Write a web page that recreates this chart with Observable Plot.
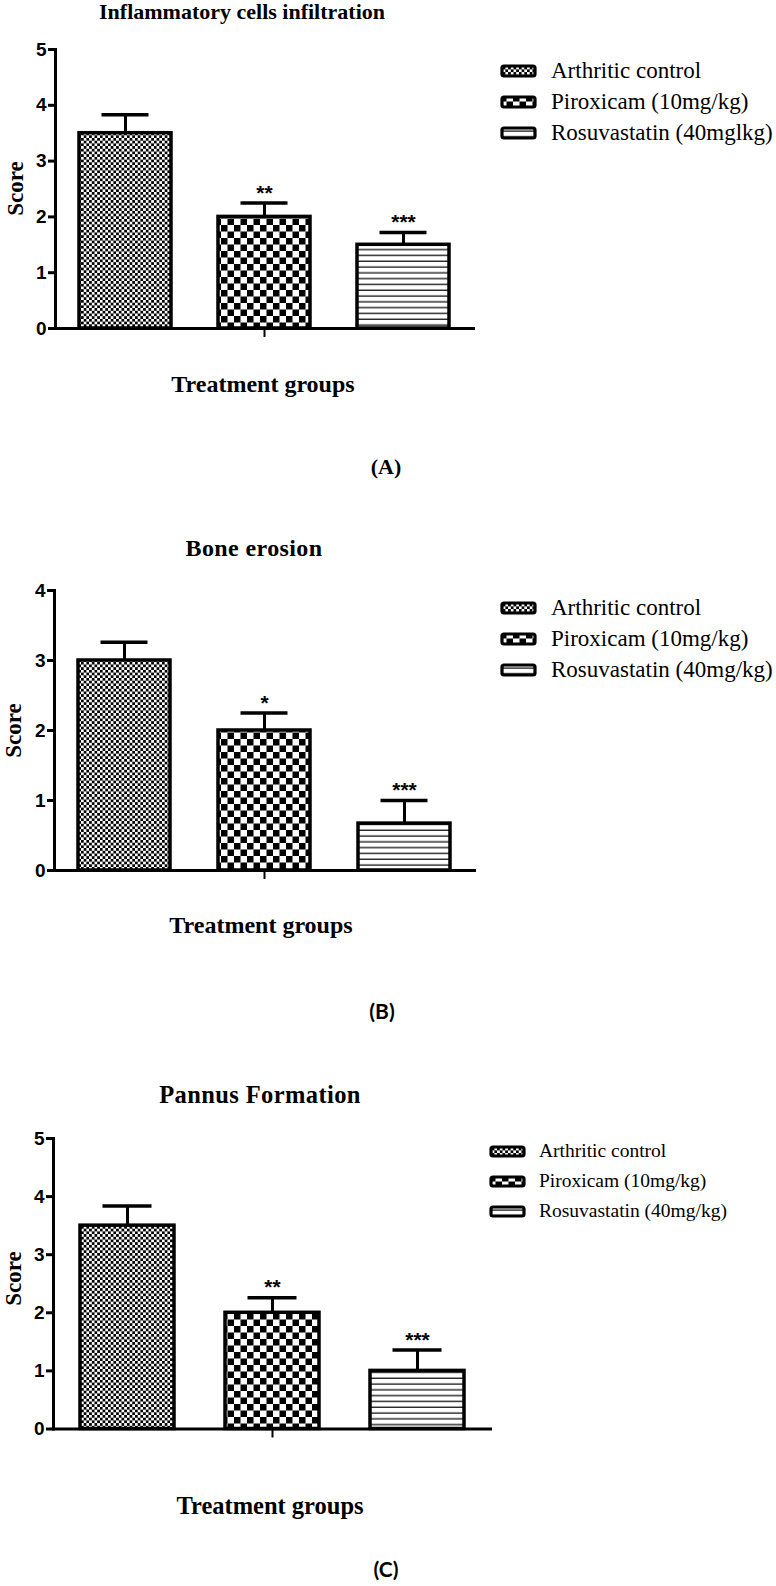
<!DOCTYPE html>
<html><head><meta charset="utf-8">
<script src="https://cdn.jsdelivr.net/npm/d3@7"></script>
<script src="https://cdn.jsdelivr.net/npm/@observablehq/plot@0.6"></script>
<style>
html,body{margin:0;padding:0;background:#fff;overflow:hidden;}
#page{position:relative;width:776px;height:1586px;overflow:hidden;background:#fff;}
.t{position:absolute;white-space:nowrap;color:#000;}
.abs{position:absolute;}
</style></head><body>
<svg width="0" height="0" style="position:absolute">
<defs>
<pattern id="pat0" patternUnits="userSpaceOnUse" width="5.4" height="5.4">
 <rect width="5.4" height="5.4" fill="#fff"/>
 <rect width="2.7" height="2.7" fill="#000"/>
 <rect x="2.7" y="2.7" width="2.7" height="2.7" fill="#000"/>
</pattern>
<pattern id="pat1" patternUnits="userSpaceOnUse" width="13" height="13">
 <rect width="13" height="13" fill="#fff"/>
 <rect width="6.5" height="6.5" fill="#000"/>
 <rect x="6.5" y="6.5" width="6.5" height="6.5" fill="#000"/>
</pattern>
<pattern id="pat2" patternUnits="userSpaceOnUse" width="8" height="5.8">
 <rect width="8" height="5.8" fill="#fff"/>
 <rect y="4.4" width="8" height="1.3" fill="#111"/>
</pattern>
</defs></svg>
<div id="page"></div>
<script>
// ---------- data ----------
const groups = ["Arthritic control", "Piroxicam (10mg/kg)", "Rosuvastatin (40mg/kg)"];
const fills = ["url(#pat0)", "url(#pat1)", "url(#pat2)"];
const titles = ["Inflammatory cells infiltration", "Bone erosion", "Pannus Formation"];
const panelLetters = ["(A)", "(B)", "(C)"];
const xLabel = "Treatment groups";
const yLabel = "Score";

const legendA = ["Arthritic control", "Piroxicam (10mg/kg)", "Rosuvastatin (40mglkg)"];
const legendB = ["Arthritic control", "Piroxicam (10mg/kg)", "Rosuvastatin (40mg/kg)"];
const legendC = ["Arthritic control", "Piroxicam (10mg/kg)", "Rosuvastatin (40mg/kg)"];

const meansA = [3.5, 2.0, 1.5];
const upperA = [3.83, 2.25, 1.72];
const starsA = ["", "**", "***"];
const yTicksA = [0, 1, 2, 3, 4, 5];

const meansB = [3.0, 2.0, 0.67];
const upperB = [3.26, 2.25, 1.0];
const starsB = ["", "*", "***"];
const yTicksB = [0, 1, 2, 3, 4];

const meansC = [3.5, 2.0, 1.0];
const upperC = [3.84, 2.26, 1.36];
const starsC = ["", "**", "***"];
const yTicksC = [0, 1, 2, 3, 4, 5];

// ---------- layout ----------
const SERIF = "'Liberation Serif','Times New Roman',serif";
const SANS = "'Liberation Sans',Arial,sans-serif";
const LATO = "Lato,'Open Sans',sans-serif";

const layouts = [
  {top: 30, height: 318, mt: 19, mb: 20, ml: 55, mr: 303, pi: 0.34, po: 0.168,
   title: {x: 242, base: 19, size: 22}, ylab: {base: 23, y: 188, size: 23},
   xlab: {x: 263, base: 392, size: 24},
   letter: {x: 386, base: 474, size: 22, font: SERIF, mid: 0.3375},
   legend: {boxX: 502, boxW: 33, boxH: 10, textX: 551, ys: [71, 102, 133], size: 23}},
  {top: 570, height: 320, mt: 20, mb: 20, ml: 54, mr: 302, pi: 0.345, po: 0.167,
   title: {x: 254, base: 556, size: 24, spacing: 0.4}, ylab: {base: 21, y: 730, size: 23},
   xlab: {x: 261, base: 933, size: 24},
   letter: {x: 382, base: 1019, size: 21, font: LATO, mid: 0.387, weight: 700},
   legend: {boxX: 502, boxW: 33, boxH: 10, textX: 551, ys: [608, 639, 670], size: 23}},
  {top: 1118, height: 330, mt: 20, mb: 19.5, ml: 53, mr: 286, pi: 0.354, po: 0.179,
   title: {x: 260, base: 1103, size: 24.5, spacing: 0.4}, ylab: {base: 21, y: 1278, size: 23},
   xlab: {x: 270, base: 1514, size: 24.5},
   letter: {x: 386, base: 1577, size: 21, font: LATO, mid: 0.387, weight: 700},
   legend: {boxX: 491, boxW: 33, boxH: 9, textX: 539, ys: [1151, 1181, 1211], size: 19.5}}
];

const panels = [
  {means: meansA, upper: upperA, stars: starsA, ticks: yTicksA, legend: legendA},
  {means: meansB, upper: upperB, stars: starsB, ticks: yTicksB, legend: legendB},
  {means: meansC, upper: upperC, stars: starsC, ticks: yTicksC, legend: legendC}
];

const page = document.getElementById("page");

// text placed by its baseline; line box height h, baseline = top + h/2 + mid*size
function addText(str, o) {
  const d = document.createElement("div");
  d.className = "t";
  d.textContent = str;
  const size = o.size;
  const h = Math.round(size * 0.75);
  const mid = o.mid || 0.3375;
  d.style.fontSize = size + "px";
  d.style.lineHeight = h + "px";
  d.style.height = h + "px";
  d.style.fontFamily = o.font || SERIF;
  d.style.fontWeight = o.weight || "normal";
  if (o.spacing) d.style.letterSpacing = o.spacing + "px";
  if (o.rotate) {
    const w = 70;
    const cx = o.base - mid * size;
    d.style.width = w + "px";
    d.style.textAlign = "center";
    d.style.left = (cx - w / 2) + "px";
    d.style.top = (o.y - h / 2) + "px";
    d.style.transform = "rotate(-90deg)";
  } else if (o.anchor === "start") {
    d.style.left = o.x + "px";
    d.style.top = (o.base - h / 2 - mid * size) + "px";
  } else {
    const w = 420;
    d.style.width = w + "px";
    d.style.textAlign = "center";
    d.style.left = (o.x - w / 2) + "px";
    d.style.top = (o.base - h / 2 - mid * size) + "px";
  }
  page.appendChild(d);
}

function addSwatch(fill, x, yc, w, h) {
  const ns = "http://www.w3.org/2000/svg";
  const s = document.createElementNS(ns, "svg");
  s.setAttribute("width", w + 4);
  s.setAttribute("height", h + 4);
  s.setAttribute("class", "abs");
  s.style.left = (x - 2) + "px";
  s.style.top = (yc - h / 2 - 2) + "px";
  const r = document.createElementNS(ns, "rect");
  r.setAttribute("x", 2); r.setAttribute("y", 2);
  r.setAttribute("width", w); r.setAttribute("height", h);
  r.setAttribute("rx", 2);
  r.setAttribute("fill", fill);
  r.setAttribute("stroke", "#000");
  r.setAttribute("stroke-width", 3.2);
  s.appendChild(r);
  page.appendChild(s);
}

panels.forEach((P, k) => {
  const L = layouts[k];
  const data = groups.map((g, i) => ({group: g, mean: P.means[i], upper: P.upper[i], stars: P.stars[i], pattern: fills[i]}));
  const chart = Plot.plot({
    width: 776, height: L.height,
    marginTop: L.mt, marginBottom: L.mb, marginLeft: L.ml, marginRight: L.mr,
    style: {fontFamily: SANS, background: "transparent", overflow: "visible", color: "#000"},
    x: {domain: groups, paddingInner: L.pi, paddingOuter: L.po},
    y: {domain: [0, P.ticks[P.ticks.length - 1]]},
    color: {type: "identity"},
    marks: [
      Plot.ruleX(data, {x: "group", y1: "mean", y2: "upper", stroke: "#000", strokeWidth: 3}),
      Plot.tickY(data, {x: "group", y: "upper", stroke: "#000", strokeWidth: 3.5, insetLeft: 22.5, insetRight: 22.5}),
      Plot.barY(data, {x: "group", y: "mean", fill: "pattern", stroke: "#000", strokeWidth: 3.5}),
      Plot.text(data, {x: "group", y: "upper", text: "stars", dy: -10, fontSize: 21, fontWeight: "bold", fill: "#000"}),
      Plot.axisY(P.ticks, {tickSize: 7, tickPadding: 2, strokeWidth: 3, fontSize: 19, fontWeight: "bold", tickFormat: d => String(d), label: null}),
      Plot.axisX([groups[1]], {tickSize: 9, strokeWidth: 2, tickFormat: () => "", label: null}),
      Plot.frame({anchor: "left", strokeWidth: 3, strokeLinecap: "square"}),
      Plot.frame({anchor: "bottom", strokeWidth: 3, strokeLinecap: "square"})
    ]
  });
  chart.style.position = "absolute";
  chart.style.left = "0px";
  chart.style.top = L.top + "px";
  page.appendChild(chart);

  addText(titles[k], {x: L.title.x, base: L.title.base, size: L.title.size, weight: "bold", spacing: L.title.spacing});
  addText(yLabel, {base: L.ylab.base, y: L.ylab.y, size: L.ylab.size, weight: "bold", rotate: true});
  addText(xLabel, {x: L.xlab.x, base: L.xlab.base, size: L.xlab.size, weight: "bold"});
  addText(panelLetters[k], {x: L.letter.x, base: L.letter.base, size: L.letter.size, font: L.letter.font, mid: L.letter.mid, weight: L.letter.weight || "bold"});

  const lg = L.legend;
  P.legend.forEach((lab, i) => {
    addSwatch(fills[i], lg.boxX, lg.ys[i], lg.boxW, lg.boxH);
    addText(lab, {x: lg.textX, base: lg.ys[i] + 0.33 * lg.size, size: lg.size, anchor: "start"});
  });
});
</script>
</body></html>
